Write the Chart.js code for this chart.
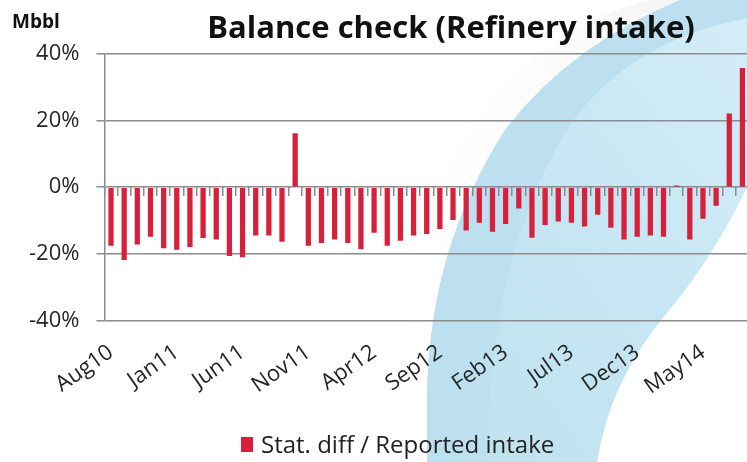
<!DOCTYPE html>
<html>
<head>
<meta charset="utf-8">
<script src="https://cdn.jsdelivr.net/npm/chart.js@4.4.1/dist/chart.umd.min.js"></script>
<style>
  html, body { margin: 0; padding: 0; overflow: hidden; background: #fff; }
  #wrap { position: relative; width: 749px; height: 462px; overflow: hidden; font-family: 'Open Sans', sans-serif; }
  #bg { position: absolute; left: 0; top: 0; z-index: 0; }
  #c { position: absolute; left: 0; top: 0; z-index: 1; }
  #title { position: absolute; left: 451px; top: 11px; transform: translateX(-50%); white-space: nowrap; font-weight: 700; font-size: 31px; line-height: 1; color: #111; z-index: 2; }
  #unit { position: absolute; left: 12px; top: 12px; font-weight: 700; font-size: 19px; line-height: 1; color: #111; z-index: 2; }
  #legend { position: absolute; left: 241px; top: 432px; display: flex; align-items: center; z-index: 2; white-space: nowrap; }
  #legend .box { width: 12px; height: 15px; margin-right: 8px; }
  #legend .txt { font-size: 24px; line-height: 1; color: #222; }
</style>
</head>
<body>
<div id="wrap">
  <svg id="bg" width="749" height="462" viewBox="0 0 749 462">
    <defs>
      <linearGradient id="g1" x1="0" y1="1" x2="1" y2="0">
        <stop offset="0" stop-color="#bfe1ee"/>
        <stop offset="0.5" stop-color="#c6e6f3"/>
        <stop offset="1" stop-color="#d4eef9"/>
      </linearGradient>
      <linearGradient id="sh" x1="0" y1="0" x2="1" y2="0">
        <stop offset="0" stop-color="#ffffff" stop-opacity="0"/>
        <stop offset="1" stop-color="#ececec" stop-opacity="1"/>
      </linearGradient>
    </defs>
    <rect x="0" y="0" width="749" height="462" fill="#ffffff"/>
    <path d="M 380,462 L 385,380 Q 395,230 480,110 Q 560,20 650,0 L 680,0 Q 570,40 505,130 Q 430,250 427,400 L 427,462 Z" fill="url(#sh)" opacity="0.6"/>
    <path d="M 427,462 L 427,400 Q 428,250 505,130 Q 570,45 680,0 L 749,0 L 749,462 Z" fill="url(#g1)"/>
    <path d="M 427,462 L 427,400 Q 428,250 505,130 Q 570,45 680,0 L 749,0 L 749,18 Q 630,40 570,125 Q 490,250 487,462 Z" fill="#bce0ef"/>
    <path d="M 597,462 Q 610,380 667,313 Q 720,250 760,160 L 760,462 Z" fill="#ffffff"/>
  </svg>
  <canvas id="c" width="749" height="462"></canvas>
  <div id="title">Balance check (Refinery intake)</div>
  <div id="unit">Mbbl</div>
  <div id="legend"><span class="box" id="lgbox"></span><span class="txt" id="lgtxt"></span></div>
</div>
<script>
// ---- data ----
const categories = [
  'Aug10','Sep10','Oct10','Nov10','Dec10',
  'Jan11','Feb11','Mar11','Apr11','May11','Jun11','Jul11','Aug11','Sep11','Oct11','Nov11','Dec11',
  'Jan12','Feb12','Mar12','Apr12','May12','Jun12','Jul12','Aug12','Sep12','Oct12','Nov12','Dec12',
  'Jan13','Feb13','Mar13','Apr13','May13','Jun13','Jul13','Aug13','Sep13','Oct13','Nov13','Dec13',
  'Jan14','Feb14','Mar14','Apr14','May14','Jun14','Jul14','Aug14'
];
const statDiffPct = [
  -17.6,-21.9,-17.2,-14.9,-18.4,
  -18.8,-18.0,-15.3,-15.7,-20.7,-21.1,-14.5,-14.5,-16.4,16.2,-17.6,-16.8,
  -15.7,-16.8,-18.7,-13.7,-17.6,-16.1,-14.5,-14.1,-12.6,-9.9,-13.0,-10.7,
  -13.4,-11.1,-6.4,-15.2,-11.4,-10.3,-10.7,-11.8,-8.3,-12.2,-15.7,-14.9,
  -14.5,-14.9,0.5,-15.7,-9.5,-5.6,22.1,35.8
];
const seriesName = 'Stat. diff / Reported intake';
const yTickValues = [-40, -20, 0, 20, 40];
const labelEvery = 5;

// ---- style ----
const barColor = '#d81f3b';
const gridColor = '#8c8c8c';
const textColor = '#262626';
const fontFamily = "'Open Sans', sans-serif";

document.getElementById('lgbox').style.background = barColor;
document.getElementById('lgtxt').textContent = seriesName;

new Chart(document.getElementById('c').getContext('2d'), {
  type: 'bar',
  data: {
    labels: categories,
    datasets: [{
      label: seriesName,
      data: statDiffPct,
      backgroundColor: barColor,
      borderWidth: 0,
      barPercentage: 0.4,
      categoryPercentage: 1.0,
      xAxisID: 'x',
      yAxisID: 'y'
    }]
  },
  options: {
    responsive: false,
    animation: false,
    devicePixelRatio: 1,
    layout: { padding: { left: 12, top: 54, right: 0, bottom: 43 } },
    plugins: { legend: { display: false }, title: { display: false }, tooltip: { enabled: false } },
    scales: {
      x: {
        type: 'category',
        position: 'bottom',
        offset: true,
        grid: { display: false, drawTicks: false },
        border: { display: false },
        ticks: {
          autoSkip: false,
          minRotation: 35,
          maxRotation: 35,
          padding: 19,
          color: textColor,
          font: { family: fontFamily, size: 22 },
          callback: (v, i) => (i % labelEvery === 0 ? categories[i] : '')
        },
        afterFit: s => { s.paddingRight = 0; }
      },
      xt: {
        type: 'category',
        labels: categories,
        position: { y: 0 },
        offset: true,
        grid: { offset: true, drawOnChartArea: false, drawTicks: true, tickLength: 9, color: gridColor, lineWidth: 1.5 },
        border: { display: false },
        ticks: { display: false }
      },
      y: {
        min: -40,
        max: 40,
        afterBuildTicks: s => { s.ticks = yTickValues.map(v => ({ value: v })); },
        ticks: {
          padding: 17,
          color: textColor,
          font: { family: fontFamily, size: 22 },
          callback: v => v + '%'
        },
        grid: { color: gridColor, lineWidth: 1.5, tickLength: 8, drawTicks: true },
        border: { color: gridColor, width: 1.5 }
      }
    }
  }
});
</script>
</body>
</html>
